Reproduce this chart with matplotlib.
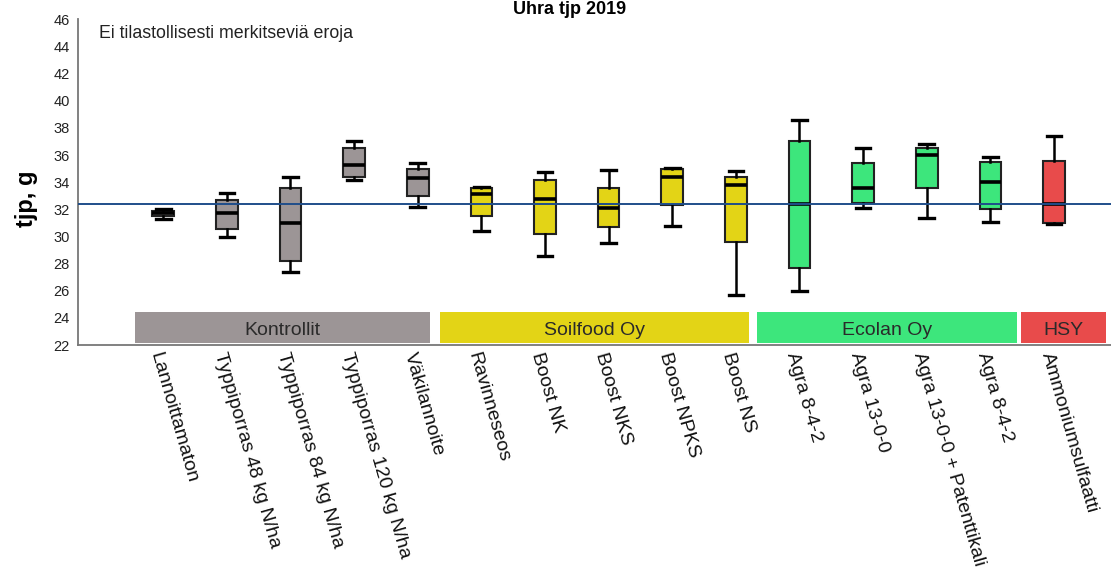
import matplotlib.pyplot as plt
from matplotlib.patches import Rectangle

plt.rcParams['font.family'] = ['Liberation Sans', 'DejaVu Sans']

treatments = ["Lannoittamaton", "Typpiporras 48 kg N/ha", "Typpiporras 84 kg N/ha",
              "Typpiporras 120 kg N/ha", "Väkilannoite", "Ravinneseos", "Boost NK",
              "Boost NKS", "Boost NPKS", "Boost NS", "Agra 8-4-2", "Agra 13-0-0",
              "Agra 13-0-0 + Patenttikali", "Agra 8-4-2", "Ammoniumsulfaatti"]
groups = ["Kontrollit"] * 5 + ["Soilfood Oy"] * 5 + ["Ecolan Oy"] * 4 + ["HSY"]

# box statistics (tjp, g)
whisker_low = [31.3, 30.0, 27.4, 34.2, 32.2, 30.4, 28.6, 29.5, 30.8, 25.7, 26.0, 32.1, 31.4, 31.1, 30.9]
q1 = [31.5, 30.55, 28.2, 34.4, 33.0, 31.5, 30.2, 30.7, 32.3, 29.6, 27.7, 32.45, 33.6, 32.0, 31.0]
median = [31.7, 31.7, 31.0, 35.3, 34.3, 33.1, 32.8, 32.1, 34.4, 33.8, 32.4, 33.6, 36.0, 34.0, 32.4]
q3 = [31.9, 32.7, 33.55, 36.5, 35.0, 33.6, 34.2, 33.55, 34.95, 34.4, 37.0, 35.45, 36.5, 35.5, 35.55]
whisker_high = [32.0, 33.2, 34.35, 37.05, 35.4, 33.65, 34.75, 34.9, 35.05, 34.8, 38.6, 36.5, 36.85, 35.85, 37.4]
grand_mean = 32.4

group_names = ["Kontrollit", "Soilfood Oy", "Ecolan Oy", "HSY"]
group_colors = {"Kontrollit": "#9C9596", "Soilfood Oy": "#E3D416",
                "Ecolan Oy": "#3DE67C", "HSY": "#E84B4B"}
# band extents along the category axis (layout only)
band_edges = [(-0.44, 4.2), (4.35, 9.21), (9.33, 13.42), (13.48, 14.82)]

fig = plt.figure(figsize=(11.11, 5.85), dpi=100)
ax = fig.add_axes([0.0702, 0.41, 0.93, 0.557])

stats = []
for i in range(len(treatments)):
    stats.append({"whislo": whisker_low[i], "q1": q1[i], "med": median[i],
                  "q3": q3[i], "whishi": whisker_high[i], "fliers": []})

positions = list(range(len(treatments)))
bp = ax.bxp(stats, positions=positions, widths=0.34, patch_artist=True,
            showfliers=False,
            boxprops=dict(edgecolor="#222222", linewidth=1.5),
            medianprops=dict(color="black", linewidth=2.6),
            whiskerprops=dict(color="black", linewidth=1.8),
            capprops=dict(color="black", linewidth=2.4),
            capwidths=0.23)
for patch, g in zip(bp["boxes"], groups):
    patch.set_facecolor(group_colors[g])

ax.axhline(grand_mean, color="#1F4E8A", linewidth=1.4, zorder=3)

for name, (x0, x1) in zip(group_names, band_edges):
    ax.add_patch(Rectangle((x0, 22.15), x1 - x0, 2.3, facecolor=group_colors[name],
                           edgecolor="none", zorder=1))
    ax.text((x0 + x1) / 2, 23.05, name, ha="center", va="center",
            fontsize=14, color="#2a2a2a", zorder=2)

ax.set_xlim(-1.34, 14.9)
ax.set_ylim(22, 46)
ax.set_yticks(range(22, 47, 2))
ax.tick_params(axis="y", length=0, labelsize=10.5, pad=6, labelcolor="#222222")
ax.tick_params(axis="x", length=0, pad=4)
ax.set_xticks(positions)
ax.set_xticklabels(treatments, rotation=-74, ha="left", va="top",
                   rotation_mode="anchor", fontsize=14, color="#111111")

for side in ["top", "right"]:
    ax.spines[side].set_visible(False)
for side in ["left", "bottom"]:
    ax.spines[side].set_color("#777777")
    ax.spines[side].set_linewidth(1.3)

ax.set_ylabel("tjp, g", fontsize=17, fontweight="bold")
ax.yaxis.set_label_coords(-0.039, 0.45)
ax.text(0.02, 0.955, "Ei tilastollisesti merkitseviä eroja", transform=ax.transAxes,
        fontsize=12.8, color="#222222", va="center", ha="left")

fig.text(0.513, 0.999, "Uhra tjp 2019", ha="center", va="top",
         fontsize=13, fontweight="bold")

fig.savefig("out.png", dpi=100)
